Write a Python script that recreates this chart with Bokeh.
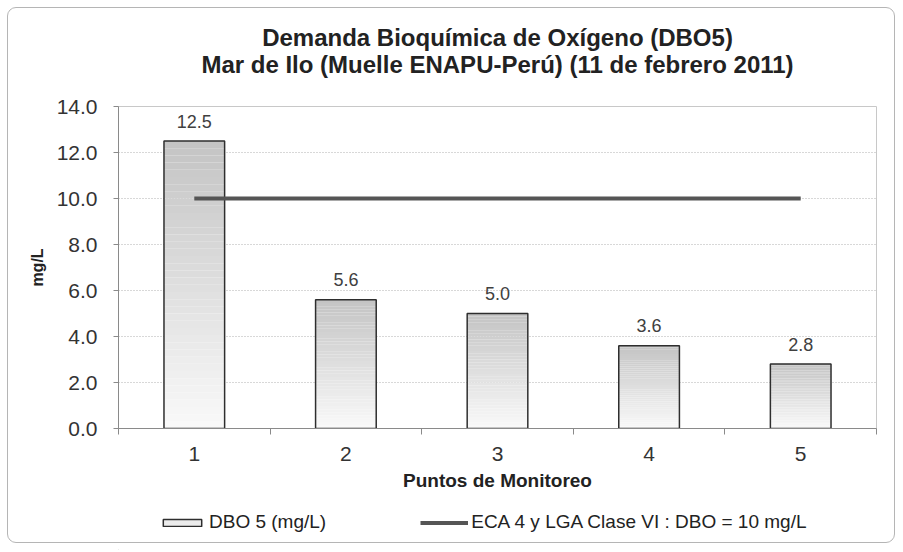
from bokeh.plotting import figure
from bokeh.layouts import column
from bokeh.models import (Range1d, FixedTicker, PrintfTickFormatter, ColumnDataSource,
                          Legend, LegendItem, Label)
from bokeh.core.properties import value
from bokeh.embed import file_html
from bokeh.resources import INLINE

# ---- data ----
points = [1, 2, 3, 4, 5]
dbo5 = [12.5, 5.6, 5.0, 3.6, 2.8]
eca_limit = [10, 10, 10, 10, 10]
y_ticks = [0, 2, 4, 6, 8, 10, 12, 14]
x_tick_labels = {1: "1", 2: "2", 3: "3", 4: "4", 5: "5"}
title_lines = ["Demanda Bioquímica de Oxígeno (DBO5)",
               "Mar de Ilo (Muelle ENAPU-Perú) (11 de febrero 2011)"]
bar_label = "DBO 5 (mg/L)"
line_label = "ECA 4 y LGA Clase VI : DBO = 10 mg/L"

FONT = "Liberation Sans, Arial, sans-serif"
W = 902
LEFT, RIGHT = 118, 26
H_TOP, H_MAIN, H_BOT = 90, 410, 50


def blank(h):
    # strip whose frame is aligned with the chart frame; x in page pixels
    f = figure(width=W, height=h, output_backend="svg", toolbar_location=None,
               x_range=Range1d(LEFT, W - RIGHT), y_range=Range1d(0, h),
               min_border=0, min_border_left=LEFT, min_border_right=RIGHT,
               x_axis_type=None, y_axis_type=None)
    f.grid.visible = False
    f.outline_line_color = None
    f.background_fill_alpha = 0
    f.border_fill_alpha = 0
    return f


# ---------- title strip ----------
t = blank(H_TOP)
for txt, yy in zip(title_lines, [H_TOP - 37, H_TOP - 64]):
    t.add_layout(Label(x=497, y=yy, text=txt, text_align="center", text_baseline="middle",
                       text_font=FONT, text_font_size="24px", text_font_style="bold",
                       text_color="#222222"))

# ---------- main chart ----------
p = figure(width=W, height=H_MAIN, output_backend="svg", toolbar_location=None,
           x_range=Range1d(0.5, 5.5), y_range=Range1d(0, 14),
           min_border_left=LEFT, min_border_right=RIGHT, min_border_top=16, min_border_bottom=72)
p.background_fill_color = "white"
p.border_fill_alpha = 0
p.outline_line_color = "#c8c8c8"
p.outline_line_width = 1

# gradient bars: slices of each bar from white at bottom to grey at top
N = 40
top_rgb = (196, 196, 196)
bot_rgb = (250, 250, 250)
gx, gb, gt, gc = [], [], [], []
for x, v in zip(points, dbo5):
    for k in range(N):
        f = (k + 0.5) / N
        r = int(bot_rgb[0] + (top_rgb[0] - bot_rgb[0]) * f)
        g = int(bot_rgb[1] + (top_rgb[1] - bot_rgb[1]) * f)
        b = int(bot_rgb[2] + (top_rgb[2] - bot_rgb[2]) * f)
        gx.append(x)
        gb.append(v * k / N)
        gt.append(v * (k + 1) / N)
        gc.append("#%02x%02x%02x" % (r, g, b))
p.vbar(x=gx, bottom=gb, top=gt, width=0.4, fill_color=gc, line_color=None)

src = ColumnDataSource(dict(x=points, top=dbo5, lbl=["%.1f" % v for v in dbo5]))
p.vbar(x="x", top="top", bottom=0, width=0.4, source=src,
       fill_alpha=0, line_color="#2e2e2e", line_width=1.5)
p.line(points, eca_limit, line_color="#555555", line_width=4)

p.text(x="x", y="top", text="lbl", source=src, text_align="center", text_baseline="middle",
       y_offset=-20, text_font=value(FONT), text_font_size="18px", text_color="#404040")

p.xgrid.grid_line_color = None
p.ygrid.grid_line_color = "#b0b0b0"
p.ygrid.grid_line_dash = "1 2"
p.ygrid.grid_line_width = 1

p.yaxis.ticker = FixedTicker(ticks=y_ticks)
p.yaxis.formatter = PrintfTickFormatter(format="%.1f")
p.yaxis.axis_line_color = "#8a8a8a"
p.yaxis.major_tick_line_color = "#8a8a8a"
p.yaxis.major_tick_out = 5
p.yaxis.major_tick_in = 0
p.yaxis.minor_tick_line_color = None
p.yaxis.major_label_standoff = 16
p.yaxis.major_label_text_font = FONT
p.yaxis.major_label_text_font_size = "21px"
p.yaxis.major_label_text_color = "#333333"
p.yaxis.axis_label = "mg/L"
p.yaxis.axis_label_text_font = FONT
p.yaxis.axis_label_text_font_size = "16px"
p.yaxis.axis_label_text_font_style = "bold"
p.yaxis.axis_label_text_color = "#222222"
p.yaxis.axis_label_standoff = 8

p.xaxis.ticker = FixedTicker(ticks=points, minor_ticks=[0.5, 1.5, 2.5, 3.5, 4.5, 5.5])
p.xaxis.major_label_overrides = x_tick_labels
p.xaxis.axis_line_color = "#8a8a8a"
p.xaxis.major_tick_line_color = None
p.xaxis.major_tick_out = 6
p.xaxis.major_tick_in = 0
p.xaxis.minor_tick_line_color = "#8a8a8a"
p.xaxis.minor_tick_out = 6
p.xaxis.minor_tick_in = 0
p.xaxis.major_label_standoff = 12
p.xaxis.major_label_text_font = FONT
p.xaxis.major_label_text_font_size = "21px"
p.xaxis.major_label_text_color = "#333333"
p.xaxis.axis_label = "Puntos de Monitoreo"
p.xaxis.axis_label_text_font = FONT
p.xaxis.axis_label_text_font_size = "19px"
p.xaxis.axis_label_text_font_style = "bold"
p.xaxis.axis_label_text_color = "#222222"
p.xaxis.axis_label_standoff = 6

# ---------- legend strip ----------
lg = blank(H_BOT)
# proxy glyphs placed far outside the strip's visible range: only their legend swatches show
r_bar = lg.vbar(x=[-5000], top=[-5000], bottom=-6000, width=1, fill_color="#ececec",
                line_color="#2e2e2e", line_width=1.5)
r_line = lg.line(x=[-6000, -5000], y=[-5000, -5000], line_color="#555555", line_width=4)
legend = Legend(items=[LegendItem(label=bar_label, renderers=[r_bar]),
                       LegendItem(label=line_label, renderers=[r_line])],
                orientation="horizontal", location=(158 - LEFT, 17),
                glyph_width=48, glyph_height=9, label_standoff=3, spacing=94,
                padding=0, margin=0, border_line_color=None, background_fill_alpha=0,
                label_text_font=FONT, label_text_font_size="19px", label_text_color="#222222")
lg.add_layout(legend, "center")

layout = column(t, p, lg, spacing=0,
                styles={"outline": "1px solid #b5b5b5", "outline-offset": "-8px",
                        "border-radius": "16px"})

open("out.html", "w").write(file_html(layout, INLINE))
